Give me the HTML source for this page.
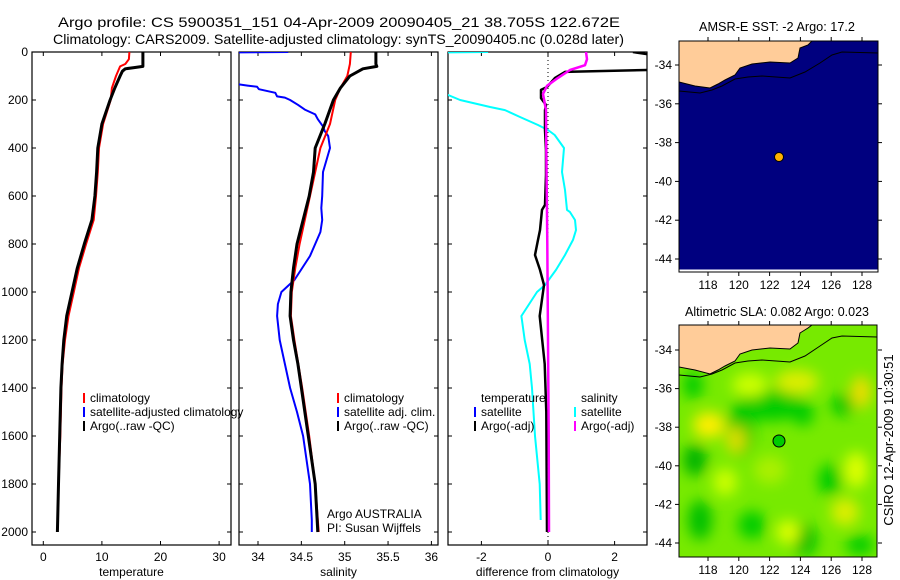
<!DOCTYPE html>
<html><head><meta charset="utf-8"><style>
html,body{margin:0;padding:0;background:#fff;}
svg{display:block;font-family:"Liberation Sans",sans-serif;}
</style></head><body>
<svg id="fig" width="900" height="580" viewBox="0 0 900 580" xmlns="http://www.w3.org/2000/svg">
<defs>
<clipPath id="c1"><rect x="32" y="52" width="199" height="493"/></clipPath>
<clipPath id="c2"><rect x="239" y="52" width="199" height="493"/></clipPath>
<clipPath id="c3"><rect x="448" y="52" width="199" height="493"/></clipPath>
<clipPath id="cm2"><rect x="679" y="325" width="198" height="232"/></clipPath>
<filter id="blur" x="-50%" y="-50%" width="200%" height="200%"><feGaussianBlur stdDeviation="7"/></filter>
</defs>
<g font-size="14" fill="#000">
<text x="58" y="27" textLength="562" lengthAdjust="spacingAndGlyphs">Argo profile: CS 5900351_151 04-Apr-2009 20090405_21 38.705S 122.672E</text>
<text x="53" y="44" textLength="571" lengthAdjust="spacingAndGlyphs">Climatology: CARS2009. Satellite-adjusted climatology: synTS_20090405.nc (0.028d later)</text>
</g>
<g id="plots"></g>

<!-- top map -->
<g>
<text x="699" y="31" font-size="13" textLength="156" lengthAdjust="spacingAndGlyphs">AMSR-E SST: -2 Argo: 17.2</text>
<rect x="679" y="41" width="199" height="231" fill="#00007f"/>
<polygon points="679,41 812,41 808,45 800,48 798,58 790,63 770,62 752,64 740,68 735,75 725,80 718,84 710,88 695,86 679,82" fill="#ffcc99" stroke="#000" stroke-width="1"/>
<polyline points="679,91 700,93 712,90 722,86 735,79 748,77 762,76 790,78 805,72 820,63 832,55 842,52 878,53" fill="none" stroke="#000" stroke-width="1"/>
<line x1="679" y1="270.5" x2="878" y2="270.5" stroke="#fff" stroke-width="2"/>
<rect x="679" y="41" width="199" height="231" fill="none" stroke="#000"/>
<circle cx="779" cy="157" r="4.5" fill="#ffb000" stroke="#000" stroke-width="1"/>
<g id="m1ticks" font-size="12"></g>
</g>

<!-- bottom map -->
<g>
<text x="685" y="316" font-size="13" textLength="184" lengthAdjust="spacingAndGlyphs">Altimetric SLA: 0.082 Argo: 0.023</text>
<g clip-path="url(#cm2)">
<rect x="679" y="325" width="198" height="232" fill="#77ea00"/>
<g filter="url(#blur)">
<ellipse cx="740" cy="430" rx="14" ry="26" fill="#00c800"/>
<ellipse cx="770" cy="405" rx="34" ry="16" fill="#00cc00"/>
<ellipse cx="803" cy="413" rx="11" ry="13" fill="#00cc00"/>
<ellipse cx="843" cy="405" rx="12" ry="11" fill="#00c800"/>
<ellipse cx="695" cy="460" rx="12" ry="16" fill="#00b400"/>
<ellipse cx="700" cy="520" rx="12" ry="20" fill="#00c000"/>
<ellipse cx="752" cy="525" rx="14" ry="14" fill="#00cc00"/>
<ellipse cx="805" cy="540" rx="12" ry="16" fill="#00c000"/>
<ellipse cx="830" cy="480" rx="12" ry="16" fill="#00cc00"/>
<ellipse cx="860" cy="545" rx="14" ry="10" fill="#00cc00"/>
<ellipse cx="693" cy="385" rx="10" ry="14" fill="#00cc00"/>
<ellipse cx="709" cy="425" rx="16" ry="13" fill="#ffee00"/>
<ellipse cx="736" cy="440" rx="10" ry="14" fill="#dddd00"/>
<ellipse cx="750" cy="385" rx="18" ry="12" fill="#ccff00"/>
<ellipse cx="797" cy="382" rx="22" ry="12" fill="#ddee00"/>
<ellipse cx="861" cy="392" rx="10" ry="16" fill="#eedd00"/>
<ellipse cx="856" cy="470" rx="12" ry="18" fill="#ddff00"/>
<ellipse cx="845" cy="512" rx="14" ry="14" fill="#ddee00"/>
<ellipse cx="788" cy="532" rx="12" ry="12" fill="#ddff00"/>
<ellipse cx="725" cy="482" rx="12" ry="14" fill="#ccff00"/>
<ellipse cx="770" cy="470" rx="16" ry="14" fill="#aaf000"/>
</g>
<polygon points="679,325 812,325 808,328 800,333 798,343 790,349 770,348 752,350 740,354 735,361 725,366 718,370 710,374 695,370 679,367" fill="#ffcc99" stroke="#000" stroke-width="1"/>
<polyline points="679,375 700,377 712,374 722,370 735,363 748,361 762,360 790,362 805,356 820,346 832,338 842,336 878,337" fill="none" stroke="#000" stroke-width="1"/>
</g>
<rect x="679" y="325" width="198" height="232" fill="none" stroke="#000"/>
<circle cx="779" cy="441" r="6" fill="#00cc00" stroke="#000" stroke-width="1"/>
<g id="m2ticks" font-size="12"></g>
<text transform="translate(893,440) rotate(-90)" font-size="13" text-anchor="middle">CSIRO 12-Apr-2009 10:30:51</text>
</g>
</svg>
<script>
// depth axis
const depthTicks = [0,200,400,600,800,1000,1200,1400,1600,1800,2000];
// temperature panel
const tTicks = [0,10,20,30];
const tArgoDepth = [0,40,60,65,70,80,100,150,200,300,400,500,600,700,800,900,1000,1100,1200,1300,1400,1600,1800,2000];
const tArgoVal   = [17.0,17.0,17.0,15.5,14.0,13.5,13.1,12.2,11.4,10.0,9.3,9.1,8.8,8.3,7.0,5.8,4.9,4.0,3.5,3.2,3.0,2.8,2.6,2.4];
const tClimDepth = [0,30,50,60,100,150,200,300,400,500,600,700,800,900,1000,1100,1200,1300,1400,1600,1800,2000];
const tClimVal   = [14.7,14.6,14.0,13.1,12.4,11.7,11.5,10.2,9.5,9.3,9.0,8.6,7.3,6.1,5.2,4.3,3.7,3.3,3.1,2.9,2.6,2.4];
// salinity panel
const sTicks = [34,34.5,35,35.5,36];
const sArgoDepth = [0,50,60,70,100,150,200,300,400,500,600,700,800,900,1000,1100,1200,1300,1400,1600,1800,2000];
const sArgoVal   = [35.36,35.36,35.37,35.21,35.06,34.95,34.87,34.77,34.66,34.64,34.59,34.52,34.45,34.41,34.38,34.37,34.41,34.46,34.50,34.58,34.66,34.69];
const sClimDepth = [0,50,100,150,200,300,400,600,700,800,900,1000,1100,1200,1400,1600,1800,2000];
const sClimVal   = [35.07,35.06,35.03,34.95,34.89,34.83,34.72,34.60,34.54,34.48,34.43,34.39,34.38,34.42,34.51,34.59,34.66,34.70];
const sSatDepth = [0,2,130,135,140,145,155,170,185,190,200,220,240,260,280,310,330,350,400,450,500,600,650,700,750,800,850,900,950,1000,1050,1100,1200,1300,1400,1500,1600,1800,1950,2000];
const sSatVal   = [34.35,33.5,33.5,33.78,33.88,33.99,34.01,34.20,34.22,34.31,34.37,34.46,34.54,34.66,34.69,34.75,34.77,34.81,34.83,34.79,34.75,34.74,34.73,34.74,34.72,34.66,34.60,34.51,34.42,34.27,34.23,34.22,34.25,34.31,34.37,34.45,34.52,34.60,34.62,34.62];
// difference panel
const dTicks = [-2,0,2];
const dTArgoDepth = [0,20,60,75,83,108,146,158,192,221,242,325,408,512,637,658,742,783,846,908,971,1100,1300,1500,2000];
const dTArgoVal   = [2.55,3.5,3.5,3.0,0.51,0.21,-0.03,-0.21,-0.21,-0.06,-0.09,-0.09,-0.06,-0.06,-0.09,-0.18,-0.24,-0.30,-0.39,-0.24,-0.12,-0.25,-0.1,-0.05,-0.03];
const dSSatDepth = [0,2,170,179,200,229,242,271,304,325,346,400,450,500,575,658,667,700,742,783,846,908,971,1000,1100,1200,1300,1400,1600,1800,1950];
const dSSatVal   = [-1.8,-3.5,-3.5,-3.0,-2.64,-1.74,-1.29,-0.84,-0.30,0.0,0.20,0.48,0.45,0.42,0.51,0.57,0.66,0.81,0.84,0.75,0.51,0.24,-0.09,-0.33,-0.80,-0.70,-0.55,-0.48,-0.39,-0.25,-0.22];
const dSArgoDepth = [0,30,55,75,108,141,175,242,400,800,1200,1600,2000];
const dSArgoVal   = [1.14,1.17,1.11,0.66,0.30,-0.03,-0.15,-0.06,-0.05,-0.02,0.0,0.02,0.03];
// map ticks
const lonTicks = [118,120,122,124,126,128];
const latTicks = [-34,-36,-38,-40,-42,-44];

const NS='http://www.w3.org/2000/svg';
const plots=document.getElementById('plots');
function mk(tag,attrs,parent){const e=document.createElementNS(NS,tag);for(const k in attrs)e.setAttribute(k,attrs[k]);(parent||plots).appendChild(e);return e;}
const Y0=52, YS=0.24;
function yD(d){return Y0+d*YS;}
const panels=[
 {x0:32,x1:231,f:v=>43.3+v*5.86,ticks:tTicks,label:'temperature',cl:'c1',name:'temperature'},
 {x0:239,x1:438,f:v=>258+(v-34)*86.7,ticks:sTicks,label:'salinity',cl:'c2',name:'salinity'},
 {x0:448,x1:647,f:v=>548+v*33.3,ticks:dTicks,label:'difference from climatology',cl:'c3',name:'difference'}
];
panels.forEach((p,i)=>{
 const g=mk('g',{});
 
 
 const fr=mk('rect',{x:p.x0,y:Y0,width:p.x1-p.x0,height:545-Y0,fill:'none',stroke:'#000','stroke-width':1.2},g);
 
 
 depthTicks.forEach(d=>{
  const y=yD(d);
  mk('line',{x1:p.x0,y1:y,x2:p.x0+4,y2:y,stroke:'#000'},g);
  mk('line',{x1:p.x1,y1:y,x2:p.x1-4,y2:y,stroke:'#000'},g);
  if(i===0){const t=mk('text',{x:28,y:y+4,'font-size':12,'text-anchor':'end'},g);t.textContent=d;
   
   }
 });
 p.ticks.forEach(v=>{
  const x=p.f(v);
  mk('line',{x1:x,y1:545,x2:x,y2:541,stroke:'#000'},g);
  mk('line',{x1:x,y1:Y0,x2:x,y2:Y0+4,stroke:'#000'},g);
  const t=mk('text',{x:x,y:561,'font-size':12,'text-anchor':'middle'},g);t.textContent=v;
  
  
 });
 const lab=mk('text',{x:(p.x0+p.x1)/2,y:576,'font-size':12,'text-anchor':'middle'},g);lab.textContent=p.label;
 
 
});
function line(p,depths,vals,color,w,name){
 const pts=depths.map((d,k)=>p.f(vals[k]).toFixed(1)+','+yD(d).toFixed(1)).join(' ');
 const e=mk('polyline',{points:pts,fill:'none',stroke:color,'stroke-width':w,'clip-path':'url(#'+p.cl+')','stroke-linejoin':'round'});
 
 
}
const zl=mk('line',{x1:panels[2].f(0),y1:Y0,x2:panels[2].f(0),y2:545,stroke:'#000','stroke-dasharray':'1,3'});


line(panels[0],tClimDepth,tClimVal,'#ff0000',2,'temperature-climatology-line');
line(panels[0],tArgoDepth,tArgoVal,'#000',3,'temperature-argo-line');
line(panels[1],sSatDepth,sSatVal,'#0000ff',2,'salinity-satellite-line');
line(panels[1],sClimDepth,sClimVal,'#ff0000',2,'salinity-climatology-line');
line(panels[1],sArgoDepth,sArgoVal,'#000',3,'salinity-argo-line');
line(panels[2],dSSatDepth,dSSatVal,'#00ffff',2,'salinity-satellite-diff-line');
line(panels[2],dTArgoDepth,dTArgoVal,'#000',2.5,'temperature-argo-diff-line');
line(panels[2],dSArgoDepth,dSArgoVal,'#ff00ff',2.5,'salinity-argo-diff-line');
function leg(x,y,color,text,name){
 const g=mk('g',{});
 
 
 if(color) mk('rect',{x:x-7,y:y-9,width:2,height:10,fill:color},g);
 const t=mk('text',{x:x,y:y,'font-size':12},g);t.textContent=text;
}
leg(90,402,'#ff0000','climatology','legend-temp-climatology');
leg(90,416,'#0000ff','satellite-adjusted climatology','legend-temp-satellite');
leg(90,430,'#000','Argo(..raw -QC)','legend-temp-argo');
leg(344,402,'#ff0000','climatology','legend-sal-climatology');
leg(344,416,'#0000ff','satellite adj. clim.','legend-sal-satellite');
leg(344,430,'#000','Argo(..raw -QC)','legend-sal-argo');
leg(481,402,null,'temperature','legend-diff-temperature-header');
leg(481,416,'#0000ff','satellite','legend-diff-temp-satellite');
leg(481,430,'#000','Argo(-adj)','legend-diff-temp-argo');
leg(581,402,null,'salinity','legend-diff-salinity-header');
leg(581,416,'#00ffff','satellite','legend-diff-sal-satellite');
leg(581,430,'#ff00ff','Argo(-adj)','legend-diff-sal-argo');
leg(327,518,null,'Argo AUSTRALIA','credit-program');
leg(327,532,null,'PI: Susan Wijffels','credit-pi');
function mapTicks(id,top,bottom,lat34,lat44){
 const g=document.getElementById(id);
 lonTicks.forEach(l=>{
  const x=708+(l-118)*15.4;
  mk('line',{x1:x,y1:bottom,x2:x,y2:bottom+4,stroke:'#000'},g);
  mk('line',{x1:x,y1:top,x2:x,y2:top-4,stroke:'#000'},g);
  const t=mk('text',{x:x,y:bottom+17,'text-anchor':'middle'},g);t.textContent=l;
  
  
 });
 latTicks.forEach(l=>{
  const y=lat34+(l+34)/(-10)*(lat44-lat34);
  mk('line',{x1:679,y1:y,x2:675,y2:y,stroke:'#000'},g);
  mk('line',{x1:878,y1:y,x2:882,y2:y,stroke:'#000'},g);
  const t=mk('text',{x:672,y:y+4,'text-anchor':'end'},g);t.textContent=l;
  
  
 });
}
mapTicks('m1ticks',41,272,65,259);
mapTicks('m2ticks',325,557,350,543);
</script>
</body></html>
